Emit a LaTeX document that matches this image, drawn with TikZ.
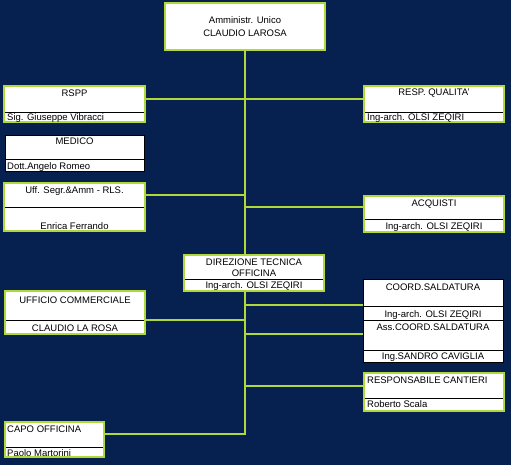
\documentclass[tikz,border=0pt]{standalone}
\usepackage{fontspec}
\setmainfont{Liberation Sans}
\usepackage{tikz}
\usepackage{xcolor}

\definecolor{navy}{RGB}{6,33,80}
\definecolor{lime}{RGB}{176,216,56}

\tikzset{
  unitbox/.style={draw=lime,line width=2.4pt,fill=white,anchor=north west,inner sep=0pt,outer sep=0pt},
  plainbox/.style={draw=black,line width=0.6pt,fill=white,anchor=north west,inner sep=0pt,outer sep=0pt},
  txt/.style={font=\fontsize{9.5}{11}\selectfont,inner sep=0pt,anchor=base},
  txtl/.style={txt,anchor=base west},
  link/.style={draw=lime,line width=2.6pt},
  divider/.style={draw=black,line width=0.8pt,shorten <=1.2pt,shorten >=1.2pt}
}

\begin{document}
\begin{tikzpicture}[x=1pt,y=-1pt]
\fill[navy] (0,0) rectangle (511,465);
\useasboundingbox (0,0) rectangle (511,465);

% boxes
\node[unitbox,minimum width=160pt,minimum height=47pt] (admin) at (165,3) {};
\node[unitbox,minimum width=141pt,minimum height=36pt] (rspp) at (4,86) {};
\node[plainbox,minimum width=139pt,minimum height=36pt] (medico) at (5,135) {};
\node[unitbox,minimum width=141pt,minimum height=48pt] (segr) at (4,183) {};
\node[unitbox,minimum width=140pt,minimum height=36pt] (qualita) at (364,86) {};
\node[unitbox,minimum width=140pt,minimum height=36pt] (acquisti) at (364,196) {};
\node[unitbox,minimum width=140pt,minimum height=43pt] (comm) at (5,291) {};
\node[plainbox,minimum width=140pt,minimum height=41pt] (coord) at (363,279) {};
\node[plainbox,minimum width=140pt,minimum height=42pt] (asscoord) at (363,320) {};
\node[unitbox,minimum width=140pt,minimum height=38pt] (cantieri) at (364,373) {};
\node[unitbox,minimum width=99pt,minimum height=35pt] (capo) at (5,422) {};

% trunk and links
\coordinate (trunkend) at (245,435);
\coordinate (j1) at (245,99);
\coordinate (j2) at (245,195);
\coordinate (j3) at (245,207);
\coordinate (j4) at (245,305);
\coordinate (j5) at (245,320);
\coordinate (j6) at (245,334);
\coordinate (j7) at (245,386);
\coordinate (j8) at (245,434);
\draw[link] (admin.south) -- (trunkend);
\draw[link] (rspp.east |- j1) -- (qualita.west |- j1);
\draw[link] (segr.east |- j2) -- (j2);
\draw[link] (j3) -- (acquisti.west |- j3);
\draw[link] (j4) -- (coord.west |- j4);
\draw[link] (comm.east |- j5) -- (j5);
\draw[link] (j6) -- (asscoord.west |- j6);
\draw[link] (j7) -- (cantieri.west |- j7);
\draw[link] (capo.east |- j8) -- (j8);

% sits on the trunk
\node[unitbox,minimum width=140pt,minimum height=36pt] (direz) at (184,255) {};

% dividers
\draw[divider] (rspp.west |- 0,112) -- (rspp.east |- 0,112);
\draw[divider,shorten <=0pt,shorten >=0pt] (medico.west |- 0,159) -- (medico.east |- 0,159);
\draw[divider] (segr.west |- 0,207) -- (segr.east |- 0,207);
\draw[divider] (qualita.west |- 0,112) -- (qualita.east |- 0,112);
\draw[divider] (acquisti.west |- 0,219) -- (acquisti.east |- 0,219);
\draw[divider] (direz.west |- 0,279) -- (direz.east |- 0,279);
\draw[divider] (comm.west |- 0,320) -- (comm.east |- 0,320);
\draw[divider,shorten <=0pt,shorten >=0pt] (coord.west |- 0,306) -- (coord.east |- 0,306);
\draw[divider,shorten <=0pt,shorten >=0pt] (asscoord.west |- 0,350) -- (asscoord.east |- 0,350);
\draw[divider] (cantieri.west |- 0,398) -- (cantieri.east |- 0,398);
\draw[divider] (capo.west |- 0,447) -- (capo.east |- 0,447);

% texts
\node[txt] (admin-r) at (245,23.5) {Amministr. Unico};
\node[txt] (admin-n) at (245,36.5) {CLAUDIO LAROSA};
\node[txt] (rspp-r) at (74.5,96.5) {RSPP};
\node[txtl] (rspp-n) at (7,120.5) {Sig. Giuseppe Vibracci};
\node[txt] (medico-r) at (74.5,144.5) {MEDICO};
\node[txtl] (medico-n) at (7,169.5) {Dott.Angelo Romeo};
\node[txt] (segr-r) at (74.5,193.5) {Uff. Segr.\&Amm - RLS.};
\node[txt] (segr-n) at (74.5,229.5) {Enrica Ferrando};
\node[txt] (qualita-r) at (434,95.5) {RESP. QUALITA'};
\node[txtl] (qualita-n) at (367,120.5) {Ing-arch. OLSI ZEQIRI};
\node[txt] (acquisti-r) at (434,206.5) {ACQUISTI};
\node[txt] (acquisti-n) at (434,229.5) {Ing-arch. OLSI ZEQIRI};
\node[txt] (direz-r) at (254,265.5) {DIREZIONE TECNICA};
\node[txt] (direz-s) at (254,276.5) {OFFICINA};
\node[txt] (direz-n) at (254,288.5) {Ing-arch. OLSI ZEQIRI};
\node[txt] (comm-r) at (75,303.5) {UFFICIO COMMERCIALE};
\node[txt] (comm-n) at (75,331.5) {CLAUDIO LA ROSA};
\node[txt] (coord-r) at (433,290.5) {COORD.SALDATURA};
\node[txt] (coord-n) at (433,317.5) {Ing-arch. OLSI ZEQIRI};
\node[txt] (asscoord-r) at (433,330.5) {Ass.COORD.SALDATURA};
\node[txt] (asscoord-n) at (433,359.5) {Ing.SANDRO CAVIGLIA};
\node[txtl] (cantieri-r) at (367,383.5) {RESPONSABILE CANTIERI};
\node[txtl] (cantieri-n) at (367,407.5) {Roberto Scala};
\node[txtl] (capo-r) at (7,432.5) {CAPO OFFICINA};
\node[txtl] (capo-n) at (7,456.5) {Paolo Martorini};
\end{tikzpicture}
\end{document}
